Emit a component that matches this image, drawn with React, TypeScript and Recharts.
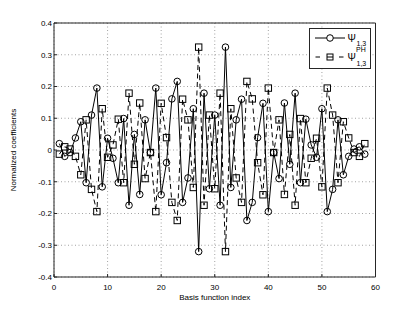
import { LineChart, Line, XAxis, YAxis, CartesianGrid } from "recharts";

// Psi_{1,3} (solid, circles) for n = 1..58
const PSI = [
  0.02, -0.02, -0.008, 0.038, 0.089, -0.103, 0.11, 0.195, -0.116, 0.037,
  -0.026, -0.103, 0.099, -0.174, 0.049, -0.14, 0.095, -0.008, 0.195, -0.141,
  -0.04, 0.161, 0.216, -0.165, -0.088, 0.13, -0.32, 0.179, -0.122, 0.11,
  -0.174, 0.324, -0.118, 0.095, 0.16, -0.222, -0.165, 0.039, 0.147, -0.194,
  -0.008, -0.09, 0.148, -0.045, 0.179, -0.103, 0.097, 0.016, -0.023, 0.13,
  -0.194, -0.124, 0.095, -0.078, -0.02, 0.003, 0.01, -0.013,
];

// Psi^{PH}_{1,3} (dashed, squares)
const PSI_PH = [
  -0.013, 0.01, 0.003, -0.02, -0.078, 0.095, -0.124, -0.194, 0.13, -0.023,
  0.016, 0.097, -0.103, 0.179, -0.045, 0.148, -0.09, -0.008, -0.194, 0.147,
  0.039, -0.165, -0.222, 0.16, 0.095, -0.118, 0.324, -0.174, 0.11, -0.122,
  0.179, -0.32, 0.13, -0.088, -0.165, 0.216, 0.161, -0.04, -0.141, 0.195,
  -0.008, 0.095, -0.14, 0.049, -0.174, 0.099, -0.103, -0.026, 0.037, -0.116,
  0.195, 0.11, -0.103, 0.089, 0.038, -0.008, -0.02, 0.02,
];

const X_TICKS = [0, 10, 20, 30, 40, 50, 60];
const Y_TICKS = [-0.4, -0.3, -0.2, -0.1, 0, 0.1, 0.2, 0.3, 0.4];

const FONT = '"Liberation Sans", Arial, Helvetica, sans-serif';
const AXIS = "#262626";
const TICK = { fill: "#000", fontSize: 8, fontFamily: FONT };

const data = PSI.map((v, i) => ({ n: i + 1, psi: v, psiPh: PSI_PH[i] }));

const fmtY = (v: number) => (Math.abs(v) < 1e-9 ? "0" : v.toFixed(1));

function SquareDot(props: any) {
  const { cx, cy, index } = props;
  if (cx == null || cy == null) return <g key={`sq-${index}`} />;
  return (
    <rect
      key={`sq-${index}`}
      x={cx - 3.2}
      y={cy - 3.2}
      width={6.4}
      height={6.4}
      fill="none"
      stroke="#000"
      strokeWidth={1}
    />
  );
}

function LegendBox() {
  return (
    <svg width={62} height={41} style={{ display: "block" }} fontFamily={FONT}>
      <rect x={0.5} y={0.5} width={61} height={40} fill="#fff" stroke={AXIS} />
      {/* row 1 */}
      <line x1={6} y1={10} x2={36} y2={10} stroke="#000" />
      <circle cx={21} cy={10} r={3.3} fill="#fff" stroke="#000" />
      <text x={38.5} y={13.5} fontSize={10}>Ψ</text>
      <text x={47.5} y={18} fontSize={7}>1,3</text>
      {/* row 2 */}
      <line x1={6.5} y1={29} x2={11} y2={29} stroke="#000" />
      <line x1={30} y1={29} x2={34.5} y2={29} stroke="#000" />
      <rect x={18} y={26} width={6} height={6} fill="#fff" stroke="#000" />
      <line x1={18} y1={29} x2={24} y2={29} stroke="#000" />
      <text x={38.5} y={32.5} fontSize={10}>Ψ</text>
      <text x={47} y={24} fontSize={7}>PH</text>
      <text x={47.5} y={37.5} fontSize={7}>1,3</text>
    </svg>
  );
}

export default function App() {
  return (
    <div style={{ position: "absolute", left: 0, top: 0, width: 415, height: 312, background: "#fff" }}>
      <LineChart
        width={415}
        height={312}
        data={data}
        margin={{ top: 22, right: 38.5, bottom: 0, left: 0 }}
      >
        <CartesianGrid stroke="#8c8c8c" strokeDasharray="1 2.5" strokeWidth={0.8} />
        <XAxis
          dataKey="n"
          type="number"
          domain={[0, 60]}
          ticks={X_TICKS}
          interval={0}
          height={35}
          stroke={AXIS}
          tick={TICK}
          tickSize={-3}
          tickMargin={10}
          label={{
            content: ({ viewBox }: any) => (
              <text
                x={viewBox.x + viewBox.width / 2}
                y={viewBox.y + 22.5}
                textAnchor="middle"
                fontSize={8}
                fontFamily={FONT}
                fill="#000"
              >
                Basis function index
              </text>
            ),
          }}
        />
        <XAxis
          xAxisId="top"
          orientation="top"
          type="number"
          domain={[0, 60]}
          ticks={X_TICKS}
          interval={0}
          height={1}
          stroke={AXIS}
          tick={false}
          tickSize={-3}
        />
        <YAxis
          type="number"
          domain={[-0.4, 0.4]}
          ticks={Y_TICKS}
          interval={0}
          width={54}
          stroke={AXIS}
          tick={TICK}
          tickSize={-3}
          tickMargin={5}
          tickFormatter={fmtY}
          allowDataOverflow
          label={{
            content: ({ viewBox }: any) => {
              const cx = viewBox.x + 13;
              const cy = viewBox.y + viewBox.height / 2;
              return (
                <text
                  x={cx}
                  y={cy}
                  transform={`rotate(-90, ${cx}, ${cy})`}
                  textAnchor="middle"
                  dominantBaseline="central"
                  fontSize={8}
                  fontFamily={FONT}
                  fill="#000"
                >
                  Normalized coefficients
                </text>
              );
            },
          }}
        />
        <YAxis
          yAxisId="right"
          orientation="right"
          type="number"
          domain={[-0.4, 0.4]}
          ticks={Y_TICKS}
          interval={0}
          width={1}
          stroke={AXIS}
          tick={false}
          tickSize={-3}
        />
        <Line
          dataKey="psi"
          type="linear"
          stroke="#000"
          strokeWidth={1}
          dot={{ r: 3.3, fill: "none", stroke: "#000", strokeWidth: 1 }}
          isAnimationActive={false}
        />
        <Line
          dataKey="psiPh"
          type="linear"
          stroke="#000"
          strokeWidth={1}
          strokeDasharray="5 3.5"
          dot={<SquareDot />}
          isAnimationActive={false}
        />
      </LineChart>
      <div style={{ position: "absolute", left: 309, top: 28 }}>
        <LegendBox />
      </div>
    </div>
  );
}
